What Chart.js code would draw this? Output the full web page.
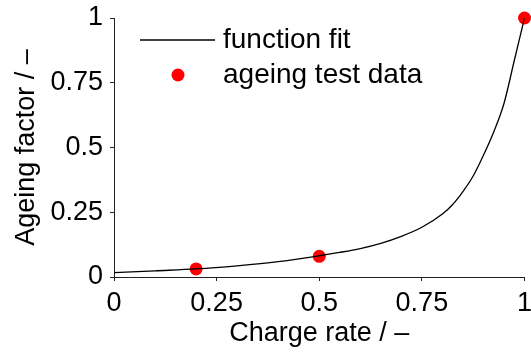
<!DOCTYPE html>
<html>
<head>
<meta charset="utf-8">
<script src="https://cdn.jsdelivr.net/npm/chart.js@4.4.1/dist/chart.umd.min.js"></script>
<style>
    html, body { margin: 0; padding: 0; background: #fff; }
    #wrap { width: 531px; height: 354px; }
</style>
</head>
<body>
<div id="wrap"><canvas id="myChart" width="531" height="354"></canvas></div>
<script>
// data
var fitX = [0, 0.1, 0.2, 0.3, 0.4, 0.5, 0.55, 0.6, 0.65, 0.7, 0.75, 0.8, 0.825, 0.85, 0.875, 0.9, 0.925, 0.95, 0.975, 1];
var fitY = [0.017, 0.024, 0.031, 0.043, 0.059, 0.082, 0.095, 0.110, 0.130, 0.157, 0.192, 0.243, 0.28, 0.33, 0.39, 0.47, 0.56, 0.67, 0.835, 1.0];
var testX = [0.2, 0.5, 1];
var testY = [0.031, 0.080, 1.0];
var xTicks = [0, 0.25, 0.5, 0.75, 1];
var yTicks = [0, 0.25, 0.5, 0.75, 1];
var labels = ['function fit', 'ageing test data'];

var FONT = "'Liberation Sans', Arial, Helvetica, sans-serif";

window.onload = function()
{
    mkchart();
}

// x,y 짝으로 묶기
function pairs(xs, ys)
{
    var out = [];
    for(var i = 0; i < xs.length; i++){
        out.push({x: xs[i], y: ys[i]});
    }
    return out;
}

// legend drawn inside the plot, top left
var innerLegend = {
    id: 'innerLegend',
    afterDraw: function(chart){
        var ctx = chart.ctx;
        var a = chart.chartArea;
        ctx.save();
        ctx.font = '28px ' + FONT;
        ctx.fillStyle = '#000';
        ctx.textBaseline = 'middle';

        // row 1 : line
        ctx.strokeStyle = '#000';
        ctx.lineWidth = 1.3;
        ctx.beginPath();
        ctx.moveTo(a.left + 26, a.top + 22);
        ctx.lineTo(a.left + 101, a.top + 22);
        ctx.stroke();
        ctx.fillText(labels[0], a.left + 109, a.top + 22);

        // row 2 : dot
        ctx.fillStyle = '#ff0000';
        ctx.beginPath();
        ctx.arc(a.left + 64, a.top + 57, 6.5, 0, Math.PI * 2);
        ctx.fill();
        ctx.fillStyle = '#000';
        ctx.fillText(labels[1], a.left + 109, a.top + 57);
        ctx.restore();
    }
};

function mkchart()
{
    var tickFont = {family: FONT, size: 27};
    var titleFont = {family: FONT, size: 27};

    new Chart(document.getElementById('myChart'), {
        type: 'scatter',
        data: {
            datasets: [
                {
                    label: labels[0],
                    type: 'line',
                    data: pairs(fitX, fitY),
                    borderColor: '#000',
                    borderWidth: 1.3,
                    pointRadius: 0,
                    fill: false,
                    cubicInterpolationMode: 'monotone'
                },
                {
                    label: labels[1],
                    data: pairs(testX, testY),
                    backgroundColor: '#ff0000',
                    borderWidth: 0,
                    pointRadius: 6.5,
                    clip: false
                }
            ]
        },
        options: {
            responsive: false,
            animation: false,
            layout: {padding: {top: 18, right: 5, left: 0, bottom: 0}},
            plugins: {
                legend: {display: false},
                tooltip: {enabled: false}
            },
            scales: {
                x: {
                    type: 'linear',
                    min: 0, max: 1,
                    afterBuildTicks: function(s){ s.ticks = xTicks.map(function(v){ return {value: v}; }); },
                    afterFit: function(s){ s.height = 77; s.paddingLeft = 0; s.paddingRight = 0; },
                    ticks: {color: '#000', font: tickFont, padding: 6, maxRotation: 0,
                        callback: function(v){ return String(v); }},
                    grid: {drawOnChartArea: false, drawTicks: true, tickLength: 4, color: '#222'},
                    border: {color: '#222', width: 1},
                    title: {display: true, text: 'Charge rate / –', color: '#000', font: titleFont, padding: {top: 4}}
                },
                y: {
                    type: 'linear',
                    min: 0, max: 1,
                    afterBuildTicks: function(s){ s.ticks = yTicks.map(function(v){ return {value: v}; }); },
                    afterFit: function(s){ s.width = 114; s.paddingTop = 0; s.paddingBottom = 0; },
                    ticks: {color: '#000', font: tickFont, padding: 7,
                        callback: function(v){ return String(v); }},
                    grid: {drawOnChartArea: false, drawTicks: true, tickLength: 4, color: '#222'},
                    border: {color: '#222', width: 1},
                    title: {display: true, text: 'Ageing factor / –', color: '#000', font: titleFont, padding: {bottom: 0, top: 10}}
                }
            }
        },
        plugins: [innerLegend]
    });
}
</script>
</body>
</html>
